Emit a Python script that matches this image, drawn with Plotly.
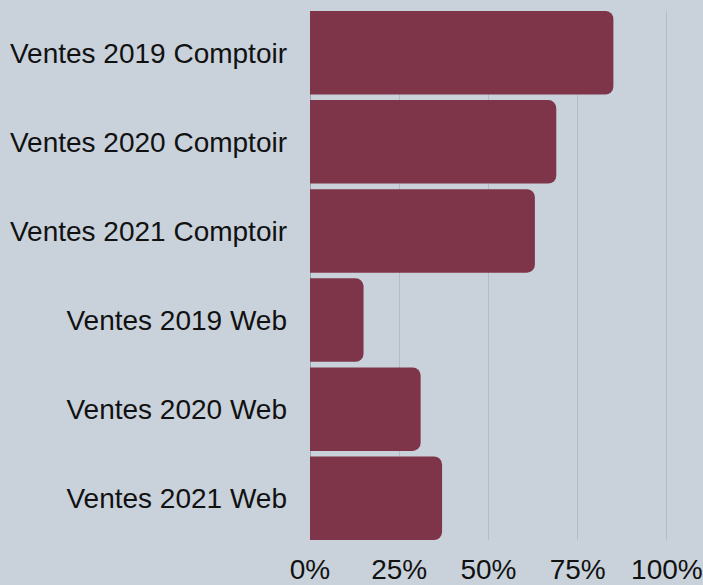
import plotly.graph_objects as go

categories = ["Ventes 2019 Comptoir", "Ventes 2020 Comptoir", "Ventes 2021 Comptoir",
              "Ventes 2019 Web", "Ventes 2020 Web", "Ventes 2021 Web"]
values = [85, 69, 63, 15, 31, 37]
tick_vals = [0, 25, 50, 75, 100]
tick_text = ["0%", "25%", "50%", "75%", "100%"]

bg = "#c9d1db"
gap = 0.063
fig = go.Figure(go.Bar(
    x=values, y=categories, orientation="h",
    marker=dict(color="#7f3549", line=dict(width=0)),
    hoverinfo="x+y",
))
fig.update_layout(
    width=703, height=585,
    paper_bgcolor=bg, plot_bgcolor=bg,
    margin=dict(l=310, r=35, t=11, b=45, autoexpand=False),
    bargap=gap,
    barcornerradius=8,
    font=dict(family="Liberation Sans, Arial, sans-serif", size=28, color="#111111"),
    showlegend=False,
)
fig.update_xaxes(
    range=[0, 100.3], tickvals=tick_vals, ticktext=tick_text,
    showgrid=True, gridcolor="#b3bcc7", gridwidth=1,
    zeroline=True, zerolinecolor="#9aa3ad", zerolinewidth=1,
    ticks="", ticklabelstandoff=10, ticklabeloverflow="allow",
    automargin=False, fixedrange=True,
)
n = len(categories)
fig.update_yaxes(
    range=[n - 0.5 - gap / 2, -0.5 + gap / 2], ticks="", ticklabelstandoff=22,
    showgrid=False, automargin=False, fixedrange=True,
)
fig.write_html("out.html", config={"displayModeBar": False},
               post_script="document.body.style.margin='0';document.body.style.background='%s';" % bg)
